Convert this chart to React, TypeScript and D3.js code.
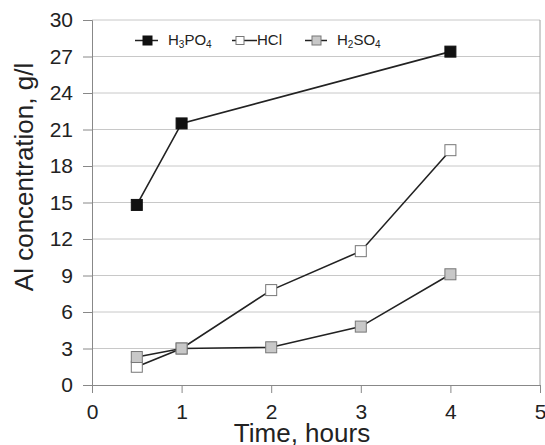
import { useEffect, useRef } from 'react'
import * as d3 from 'd3'

const hours = [0.5, 1, 2, 3, 4]
const h3po4Hours = [0.5, 1, 4]
const h3po4Values = [14.8, 21.5, 27.4]
const hclValues = [1.5, 3.0, 7.8, 11.0, 19.3]
const h2so4Values = [2.3, 3.0, 3.1, 4.8, 9.1]
const xTicks = [0, 1, 2, 3, 4, 5]
const yTicks = [0, 3, 6, 9, 12, 15, 18, 21, 24, 27, 30]

const series = [
  { name: 'H3PO4', label: ['H', '3', 'PO', '4'], xs: h3po4Hours, ys: h3po4Values, fill: '#111111', stroke: '#111111' },
  { name: 'HCl', label: ['HCl'], xs: hours, ys: hclValues, fill: '#ffffff', stroke: '#777777' },
  { name: 'H2SO4', label: ['H', '2', 'SO', '4'], xs: hours, ys: h2so4Values, fill: '#c8c8c8', stroke: '#777777' },
]

// legend layout: line start, line end, marker centre, text start
const legendLayout = [
  { x1: 135, x2: 158, mx: 147.5, tx: 168, ms: 9 },
  { x1: 232, x2: 257, mx: 240, tx: 257, ms: 8 },
  { x1: 305, x2: 327, mx: 316.5, tx: 337, ms: 9 },
]

export default function App() {
  const svgRef = useRef<SVGSVGElement>(null)

  useEffect(() => {
    if (!svgRef.current) return
    const svg = d3.select(svgRef.current)
    svg.selectAll('*').remove()

    const width = 545
    const height = 445
    const margin = { top: 20, right: 5, bottom: 60, left: 92 }
    const font = 'Liberation Sans, Arial, sans-serif'

    const x = d3.scaleLinear().domain([0, 5]).range([margin.left, width - margin.right])
    const y = d3.scaleLinear().domain([0, 30]).range([height - margin.bottom, margin.top])

    // gridlines
    svg.append('g')
      .selectAll('line')
      .data(yTicks.filter(t => t > 0))
      .enter().append('line')
      .attr('x1', x(0)).attr('x2', x(5))
      .attr('y1', d => y(d)).attr('y2', d => y(d))
      .attr('stroke', '#c8c8c8')
      .attr('stroke-width', 1)

    // right border
    svg.append('line')
      .attr('x1', x(5)).attr('x2', x(5))
      .attr('y1', y(0)).attr('y2', y(30))
      .attr('stroke', '#a0a0a0')

    // y axis
    const yAxis = svg.append('g')
      .attr('transform', `translate(${x(0)},0)`)
      .call(d3.axisLeft(y).tickValues(yTicks).tickSize(9).tickPadding(10))
    yAxis.select('.domain').attr('stroke', '#888888')
    yAxis.selectAll('.tick line').attr('stroke', '#888888')
    yAxis.selectAll('.tick text')
      .attr('font-family', font)
      .attr('font-size', 21)
      .attr('fill', '#222222')

    // x axis
    const xAxis = svg.append('g')
      .attr('transform', `translate(0,${y(0)})`)
      .call(d3.axisBottom(x).tickValues(xTicks).tickSize(8).tickPadding(11).tickFormat(d3.format('d')))
    xAxis.select('.domain').attr('stroke', '#888888')
    xAxis.selectAll('.tick line').attr('stroke', '#888888')
    xAxis.selectAll('.tick text')
      .attr('font-family', font)
      .attr('font-size', 21)
      .attr('fill', '#222222')

    // axis titles
    svg.append('text')
      .attr('transform', `translate(33,177) rotate(-90)`)
      .attr('text-anchor', 'middle')
      .attr('font-family', font)
      .attr('font-size', 26)
      .attr('fill', '#222222')
      .text('Al concentration, g/l')

    svg.append('text')
      .attr('x', 302)
      .attr('y', 442)
      .attr('text-anchor', 'middle')
      .attr('font-family', font)
      .attr('font-size', 26)
      .attr('fill', '#222222')
      .text('Time, hours')

    const line = d3.line<[number, number]>()
      .x(d => x(d[0]))
      .y(d => y(d[1]))

    const ms = 11
    series.forEach(s => {
      const pts: [number, number][] = s.xs.map((h, i) => [h, s.ys[i]])
      svg.append('path')
        .attr('d', line(pts))
        .attr('fill', 'none')
        .attr('stroke', '#222222')
        .attr('stroke-width', 1.6)
      svg.append('g')
        .selectAll('rect')
        .data(pts)
        .enter().append('rect')
        .attr('x', d => x(d[0]) - ms / 2)
        .attr('y', d => y(d[1]) - ms / 2)
        .attr('width', ms)
        .attr('height', ms)
        .attr('fill', s.fill)
        .attr('stroke', s.stroke)
        .attr('stroke-width', 1)
    })

    // legend
    const legendY = 40.5
    series.forEach((s, i) => {
      const L = legendLayout[i]
      const g = svg.append('g')
      g.append('line')
        .attr('x1', L.x1).attr('x2', L.x2)
        .attr('y1', legendY).attr('y2', legendY)
        .attr('stroke', '#222222')
        .attr('stroke-width', 1.5)
      g.append('rect')
        .attr('x', L.mx - L.ms / 2)
        .attr('y', legendY - L.ms / 2)
        .attr('width', L.ms)
        .attr('height', L.ms)
        .attr('fill', s.fill)
        .attr('stroke', s.stroke)
      const t = g.append('text')
        .attr('x', L.tx)
        .attr('y', 45)
        .attr('font-family', font)
        .attr('font-size', 15)
        .attr('fill', '#222222')
      s.label.forEach((part, j) => {
        const sub = j % 2 === 1
        t.append('tspan')
          .attr('font-size', sub ? 10 : 15)
          .attr('dy', sub ? 3 : (j > 0 ? -3 : 0))
          .text(part)
      })
    })
  }, [])

  return (
    <svg
      ref={svgRef}
      width={545}
      height={445}
      style={{ position: 'absolute', left: 0, top: 0, background: '#ffffff' }}
    />
  )
}
